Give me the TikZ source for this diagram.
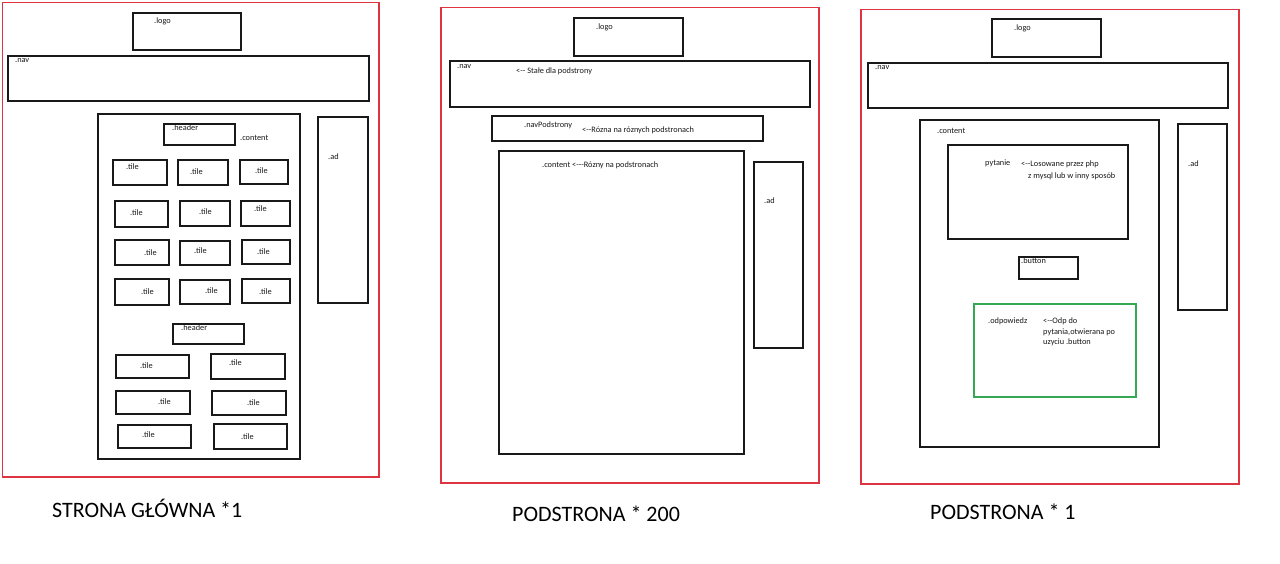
\documentclass[tikz,border=0pt]{standalone}
\usepackage{fontspec}
\setmainfont{Carlito}
\tikzset{
  box/.style={draw=black!90, line width=1.8pt},
  frame/.style={draw={rgb,255:red,222;green,52;blue,66}, line width=1.4pt},
  greenbox/.style={draw={rgb,255:red,52;green,168;blue,83}, line width=1.4pt},
  lbl/.style={anchor=base west, inner sep=0pt, font=\fontsize{8.3}{10}\selectfont, text=black!90},
  captxt/.style={anchor=base west, inner sep=0pt, font=\fontsize{22}{26}\selectfont}
}
\newcommand\bx[4]{\draw[box] (#1,#2) rectangle (#3,#4);}
\begin{document}
\begin{tikzpicture}[x=1pt,y=-1pt]
\useasboundingbox (0,0) rectangle (1280,564);
\fill[white] (0,0) rectangle (1280,564);

% ================= Panel 1 =================
\draw[frame] (2.2,2.4) rectangle (379,477);
\bx{133}{13}{241}{50}
\node[lbl] (p1logo) at (154,23.5) {.logo};
\bx{8}{56}{369}{101}
\node[lbl] (p1nav) at (15,62.5) {.nav};
\bx{98}{114}{300}{459}
\bx{164}{124}{235}{145}
\node[lbl] (p1head1) at (172,130.5) {.header};
\node[lbl] (p1content) at (240,140.5) {.content};
\bx{318}{117}{368}{303}
\node[lbl] (p1ad) at (328,159.5) {.ad};
% row 1
\bx{113}{160}{167}{185} \node[lbl] (t11) at (126,169.5) {.tile};
\bx{178}{160}{228}{185} \node[lbl] (t12) at (190,174.5) {.tile};
\bx{240}{160}{288}{184} \node[lbl] (t13) at (255,173.5) {.tile};
% row 2
\bx{115}{201}{168}{227} \node[lbl] (t21) at (130,215.5) {.tile};
\bx{180}{201}{230}{226} \node[lbl] (t22) at (199,214.5) {.tile};
\bx{241}{201}{290}{226} \node[lbl] (t23) at (254,211.5) {.tile};
% row 3
\bx{115}{240}{169}{265} \node[lbl] (t31) at (144,255.5) {.tile};
\bx{180}{241}{230}{265} \node[lbl] (t32) at (194,253.5) {.tile};
\bx{242}{240}{290}{264} \node[lbl] (t33) at (257,254.5) {.tile};
% row 4
\bx{115}{279}{169}{305} \node[lbl] (t41) at (141,294.5) {.tile};
\bx{180}{280}{230}{304} \node[lbl] (t42) at (205,293.5) {.tile};
\bx{242}{279}{290}{303} \node[lbl] (t43) at (259,294.5) {.tile};
% header 2
\bx{173}{324}{244}{344}
\node[lbl] (p1head2) at (181,330.5) {.header};
% row 5
\bx{116}{355}{189}{378} \node[lbl] (t51) at (140,368.5) {.tile};
\bx{211}{354}{285}{379} \node[lbl] (t52) at (229,365.5) {.tile};
% row 6
\bx{116}{391}{190}{414} \node[lbl] (t61) at (158,404.5) {.tile};
\bx{212}{391}{286}{415} \node[lbl] (t62) at (247,405.5) {.tile};
% row 7
\bx{118}{425}{191}{448} \node[lbl] (t71) at (142,437.5) {.tile};
\bx{214}{424}{287}{449} \node[lbl] (t72) at (241,439.5) {.tile};
\node[captxt] (cap1) at (52,517) {STRONA GŁÓWNA *1};

% ================= Panel 2 =================
\draw[frame] (441,7.5) rectangle (819,483);
\bx{574}{18}{683}{56}
\node[lbl] (p2logo) at (596,29.5) {.logo};
\bx{450}{61}{810}{107}
\node[lbl] (p2nav) at (457,68.5) {.nav};
\node[lbl] (p2navnote) at (516,73.5) {<-{}- Stałe dla podstrony};
\bx{492}{116}{763}{141}
\node[lbl] (p2navp) at (524,127.5) {.navPodstrony};
\node[lbl] (p2navpnote) at (582,132.5) {<-{}-Rózna na róznych podstronach};
\bx{499}{151}{744}{454}
\node[lbl] (p2content) at (542,167.5) {.content <-{}-{}-Rózny na podstronach};
\bx{754}{162}{803}{348}
\node[lbl] (p2ad) at (764,203.5) {.ad};
\node[captxt] (cap2) at (512,521) {PODSTRONA * 200};

% ================= Panel 3 =================
\draw[frame] (861,9.5) rectangle (1239,484);
\bx{992}{19}{1101}{57}
\node[lbl] (p3logo) at (1014,30.5) {.logo};
\bx{868}{63}{1228}{108}
\node[lbl] (p3nav) at (875,69.5) {.nav};
\bx{920}{120}{1159}{447}
\node[lbl] (p3content) at (937,133.5) {.content};
\bx{948}{145}{1128}{239}
\node[lbl] (p3pyt) at (985,166) {pytanie};
\node[lbl] (p3pytnote1) at (1021,167) {<-{}-Losowane przez php};
\node[lbl] (p3pytnote2) at (1028,179) {z mysql lub w inny sposób};
\bx{1178}{124}{1227}{310}
\node[lbl] (p3ad) at (1188,166.5) {.ad};
\bx{1019}{257}{1078}{279}
\node[lbl] (p3btn) at (1021,263.5) {.button};
\draw[greenbox] (974,304) rectangle (1136,397);
\node[lbl] (p3odp) at (988,323.5) {.odpowiedz};
\node[lbl] (p3odpn1) at (1043,323.5) {<-{}-Odp do};
\node[lbl] (p3odpn2) at (1043,334) {pytania,otwierana po};
\node[lbl] (p3odpn3) at (1043,344) {uzyciu .button};
\node[captxt] (cap3) at (930,519) {PODSTRONA * 1};
\end{tikzpicture}
\end{document}
